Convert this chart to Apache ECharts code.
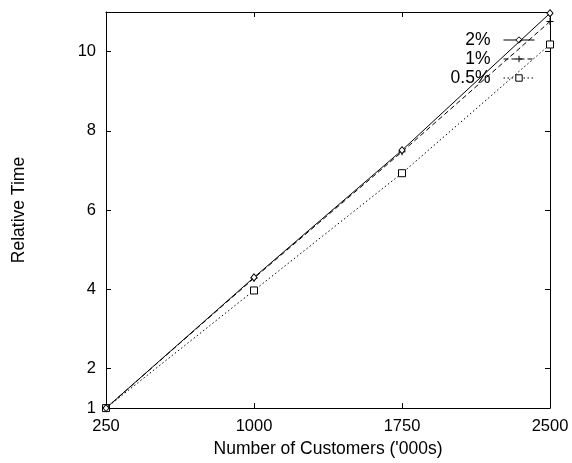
<!DOCTYPE html>
<html>
<head>
<meta charset="utf-8">
<script src="https://cdn.jsdelivr.net/npm/echarts@6/dist/echarts.min.js"></script>
<style>html,body{margin:0;padding:0;background:#fff}#c{width:572px;height:463px}</style>
</head>
<body>
<div id="c"></div>
<script>
const customers = [250, 1000, 1750, 2500];
const pct2 = [1, 4.30, 7.51, 10.97];
const pct1 = [1, 4.28, 7.47, 10.76];
const pct05 = [1, 3.97, 6.93, 10.18];
const xTickLabels = [250, 1000, 1750, 2500];
const xTickMarks = [1000, 1750];
const yTickLabels = [1, 2, 4, 6, 8, 10];
const yTickMarks = [2, 4, 6, 8, 10];

const FONT = 'Liberation Sans, Arial, sans-serif';
const black = '#000';

function pairs(ys) { return customers.map((x, i) => [x, ys[i]]); }

const chart = echarts.init(document.getElementById('c'), null, {renderer: 'canvas'});
const axisBase = {
  axisLine: {show: true, onZero: false, lineStyle: {color: black, width: 1}},
  splitLine: {show: false}
};
chart.setOption({
  animation: false,
  backgroundColor: '#fff',
  textStyle: {fontFamily: FONT, color: black},
  grid: {left: 106, right: 22, top: 12, bottom: 51, containLabel: false},
  legend: {
    orient: 'vertical', right: 32, top: 26, align: 'right',
    itemWidth: 31, itemHeight: 8, itemGap: 1,
    itemStyle: {borderWidth: 1},
    lineStyle: {width: 1},
    textStyle: {fontSize: 17.5, color: black, fontFamily: FONT, padding: [0, 8, 0, 0]},
    data: ['2%', '1%', '0.5%']
  },
  xAxis: [
    Object.assign({}, axisBase, {
      type: 'value', position: 'bottom', min: 250, max: 2500,
      name: "Number of Customers ('000s)", nameLocation: 'middle', nameGap: 27,
      nameTextStyle: {fontSize: 17.5, color: black, fontFamily: FONT},
      axisTick: {show: true, inside: true, length: 5, customValues: xTickMarks, lineStyle: {color: black}},
      axisLabel: {show: true, fontSize: 16.5, color: black, margin: 10, customValues: xTickLabels, fontFamily: FONT,
        formatter: v => String(v)}
    }),
    Object.assign({}, axisBase, {
      type: 'value', position: 'top', min: 250, max: 2500,
      axisTick: {show: true, inside: true, length: 5, customValues: xTickMarks, lineStyle: {color: black}},
      axisLabel: {show: false}
    })
  ],
  yAxis: [
    Object.assign({}, axisBase, {
      type: 'value', position: 'left', min: 1, max: 11,
      name: 'Relative Time', nameLocation: 'middle', nameGap: 78,
      nameTextStyle: {fontSize: 17.5, color: black, fontFamily: FONT},
      axisTick: {show: true, inside: true, length: 5, customValues: yTickMarks, lineStyle: {color: black}},
      axisLabel: {show: true, fontSize: 16.5, color: black, margin: 10, customValues: yTickLabels, fontFamily: FONT,
        formatter: v => String(v)}
    }),
    Object.assign({}, axisBase, {
      type: 'value', position: 'right', min: 1, max: 11,
      axisTick: {show: true, inside: true, length: 5, customValues: yTickMarks, lineStyle: {color: black}},
      axisLabel: {show: false}
    })
  ],
  series: [
    {
      name: '2%', type: 'line', data: pairs(pct2), xAxisIndex: 0, yAxisIndex: 0,
      symbol: 'diamond', symbolSize: [6, 7], showSymbol: true, z: 4,
      lineStyle: {color: black, width: 1, type: 'solid'},
      itemStyle: {color: '#fff', borderColor: black, borderWidth: 1}
    },
    {
      name: '1%', type: 'line', data: pairs(pct1), xAxisIndex: 0, yAxisIndex: 0,
      symbol: 'path://M0,4L8,4M4,0L4,8', symbolSize: 7, showSymbol: true, z: 3,
      lineStyle: {color: black, width: 1, type: [5, 3]},
      itemStyle: {color: 'none', borderColor: black, borderWidth: 1}
    },
    {
      name: '0.5%', type: 'line', data: pairs(pct05), xAxisIndex: 0, yAxisIndex: 0,
      symbol: 'rect', symbolSize: 7, showSymbol: true, z: 2,
      lineStyle: {color: black, width: 1, type: [1.5, 2.5]},
      itemStyle: {color: '#fff', borderColor: black, borderWidth: 1}
    }
  ]
});
</script>
</body>
</html>
